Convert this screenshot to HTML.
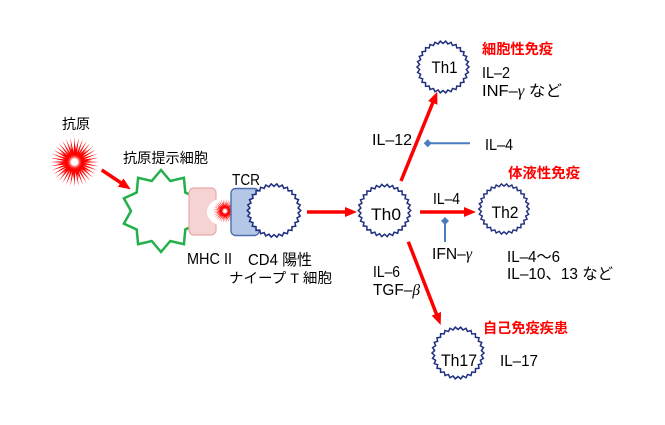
<!DOCTYPE html>
<html><head><meta charset="utf-8">
<style>
html,body{margin:0;padding:0;background:#fff;}
svg{display:block;}
text{font-family:"Liberation Sans","Noto Sans CJK JP",sans-serif;fill:#000;}
.r{fill:#ff0000;font-weight:bold;font-size:14px;}
.l{font-size:15.5px;}
.j{font-size:14px;}
.t{font-size:17px;text-anchor:middle;}
.g{font-family:"Liberation Serif",serif;font-style:italic;}
</style></head>
<body>
<svg width="665" height="425" viewBox="0 0 665 425" xmlns="http://www.w3.org/2000/svg">
<defs>
<polygon id="zz" points="26,0 23.37,2.46 25.43,5.41 22.35,7.26 23.75,10.57 20.35,11.75 21.03,15.28 17.46,15.72 17.4,19.32 13.81,19.01 13,22.52 9.56,21.47 8.03,24.73 4.89,22.99 2.72,25.86 0,23.5 -2.72,25.86 -4.89,22.99 -8.03,24.73 -9.56,21.47 -13,22.52 -13.81,19.01 -17.4,19.32 -17.46,15.72 -21.03,15.28 -20.35,11.75 -23.75,10.57 -22.35,7.26 -25.43,5.41 -23.37,2.46 -26,0 -23.37,-2.46 -25.43,-5.41 -22.35,-7.26 -23.75,-10.57 -20.35,-11.75 -21.03,-15.28 -17.46,-15.72 -17.4,-19.32 -13.81,-19.01 -13,-22.52 -9.56,-21.47 -8.03,-24.73 -4.89,-22.99 -2.72,-25.86 0,-23.5 2.72,-25.86 4.89,-22.99 8.03,-24.73 9.56,-21.47 13,-22.52 13.81,-19.01 17.4,-19.32 17.46,-15.72 21.03,-15.28 20.35,-11.75 23.75,-10.57 22.35,-7.26 25.43,-5.41 23.37,-2.46" fill="#fff" stroke="#1f2f80" stroke-width="1.5" stroke-linejoin="miter"/>
<radialGradient id="glow" cx="0.5" cy="0.5" r="0.5">
<stop offset="0" stop-color="#fff"/>
<stop offset="0.4" stop-color="#fff"/>
<stop offset="1" stop-color="#ff0000" stop-opacity="0"/>
</radialGradient>
<g id="burst" fill="#ff0000">
<polygon points="0,-24.5 1.5,0 0,24.5 -1.5,0"/>
<polygon points="0,-24.5 1.5,0 0,24.5 -1.5,0" transform="rotate(10)"/>
<polygon points="0,-24.5 1.5,0 0,24.5 -1.5,0" transform="rotate(20)"/>
<polygon points="0,-24.5 1.5,0 0,24.5 -1.5,0" transform="rotate(30)"/>
<polygon points="0,-24.5 1.5,0 0,24.5 -1.5,0" transform="rotate(40)"/>
<polygon points="0,-24.5 1.5,0 0,24.5 -1.5,0" transform="rotate(50)"/>
<polygon points="0,-24.5 1.5,0 0,24.5 -1.5,0" transform="rotate(60)"/>
<polygon points="0,-24.5 1.5,0 0,24.5 -1.5,0" transform="rotate(70)"/>
<polygon points="0,-24.5 1.5,0 0,24.5 -1.5,0" transform="rotate(80)"/>
<polygon points="0,-24.5 1.5,0 0,24.5 -1.5,0" transform="rotate(90)"/>
<polygon points="0,-24.5 1.5,0 0,24.5 -1.5,0" transform="rotate(100)"/>
<polygon points="0,-24.5 1.5,0 0,24.5 -1.5,0" transform="rotate(110)"/>
<polygon points="0,-24.5 1.5,0 0,24.5 -1.5,0" transform="rotate(120)"/>
<polygon points="0,-24.5 1.5,0 0,24.5 -1.5,0" transform="rotate(130)"/>
<polygon points="0,-24.5 1.5,0 0,24.5 -1.5,0" transform="rotate(140)"/>
<polygon points="0,-24.5 1.5,0 0,24.5 -1.5,0" transform="rotate(150)"/>
<polygon points="0,-24.5 1.5,0 0,24.5 -1.5,0" transform="rotate(160)"/>
<polygon points="0,-24.5 1.5,0 0,24.5 -1.5,0" transform="rotate(170)"/>
<polygon points="0,-18 1.2,0 0,18 -1.2,0" transform="rotate(5)"/>
<polygon points="0,-18 1.2,0 0,18 -1.2,0" transform="rotate(45)"/>
<polygon points="0,-18 1.2,0 0,18 -1.2,0" transform="rotate(85)"/>
<polygon points="0,-18 1.2,0 0,18 -1.2,0" transform="rotate(125)"/>
<polygon points="0,-18 1.2,0 0,18 -1.2,0" transform="rotate(165)"/>
<circle r="9.5"/>
<circle r="8" fill="url(#glow)"/>
</g>
</defs>

<!-- Antigen -->
<use href="#burst" transform="translate(74.5,162)"/>
<text class="j" x="62" y="129" textLength="28" lengthAdjust="spacingAndGlyphs">抗原</text>

<!-- Arrow antigen -> APC -->
<line x1="101.7" y1="170" x2="122" y2="183.5" stroke="#ff0000" stroke-width="3.5"/>
<polygon points="130.7,189.3 117.94,186.81 123.48,178.49" fill="#ff0000"/>

<!-- APC star -->
<polygon points="161,170 170.3,181 183.9,177.8 185.3,192.5 198.1,198.3 191,211 198.1,223.7 185.3,229.5 183.9,244.2 170.3,241 161,252 151.7,241 138.1,244.2 136.7,229.5 123.9,223.7 131,211 123.9,198.3 136.7,192.5 138.1,177.8 151.7,181" fill="#fff" stroke="#22b04a" stroke-width="2.5" stroke-linejoin="miter"/>
<text class="j" x="123" y="163" textLength="85" lengthAdjust="spacingAndGlyphs">抗原提示細胞</text>

<!-- MHC II -->
<rect x="189" y="188" width="27" height="47" rx="5" fill="#f6d3d3" stroke="#eaa9a9" stroke-width="1.2"/>
<ellipse cx="223" cy="212" rx="16" ry="13.5" fill="#fff"/>
<use href="#burst" transform="translate(225,211) scale(0.5)"/>

<!-- TCR -->
<rect x="231" y="188.5" width="28" height="47" rx="4.5" fill="#b4c7e7" stroke="#4a6fb0" stroke-width="1.4"/>
<!-- CD4 T cell -->
<use href="#zz" transform="translate(274,210.5) scale(1.03)"/>

<text class="l" x="232" y="185" textLength="28" lengthAdjust="spacingAndGlyphs">TCR</text>
<text class="l" x="187" y="264" textLength="45" lengthAdjust="spacingAndGlyphs">MHC II</text>
<text class="l" x="248" y="265" textLength="64" lengthAdjust="spacingAndGlyphs">CD4 陽性</text>
<text class="j" x="229" y="283" textLength="103" lengthAdjust="spacingAndGlyphs">ナイープ T 細胞</text>

<!-- Arrow T cell -> Th0 -->
<line x1="307" y1="212" x2="346" y2="212" stroke="#ff0000" stroke-width="3.5"/>
<polygon points="357,212 345,207 345,217" fill="#ff0000"/>

<!-- Th cells -->
<use href="#zz" transform="translate(384.5,210.5) scale(1.01)"/>
<text class="t" x="386" y="220" textLength="30" lengthAdjust="spacingAndGlyphs">Th0</text>

<use href="#zz" transform="translate(443,67) scale(1.0)"/>
<text class="t" x="444.5" y="73" textLength="26" lengthAdjust="spacingAndGlyphs">Th1</text>

<use href="#zz" transform="translate(504,209) scale(0.97)"/>
<text class="t" x="505" y="218" textLength="27" lengthAdjust="spacingAndGlyphs">Th2</text>

<use href="#zz" transform="translate(458,353) scale(1.0)"/>
<text class="t" x="459" y="366" textLength="36" lengthAdjust="spacingAndGlyphs">Th17</text>

<!-- Arrow Th0 -> Th1 -->
<line x1="401" y1="181" x2="433.5" y2="101" stroke="#ff0000" stroke-width="3.5"/>
<polygon points="437.3,91.7 437.41,104.7 428.15,100.94" fill="#ff0000"/>

<!-- Arrow Th0 -> Th2 -->
<line x1="420" y1="212" x2="465" y2="212" stroke="#ff0000" stroke-width="3.5"/>
<polygon points="476,212 464,207 464,217" fill="#ff0000"/>

<!-- Arrow Th0 -> Th17 -->
<line x1="408.3" y1="241.7" x2="436.8" y2="315" stroke="#ff0000" stroke-width="3.5"/>
<polygon points="440.7,325 431.69,315.63 441.01,312.01" fill="#ff0000"/>

<!-- Blue inhibitor lines -->
<line x1="470" y1="143.3" x2="429" y2="143.3" stroke="#4a7cc0" stroke-width="2"/>
<polygon points="427.7,139.3 431.7,143.3 427.7,147.3 423.7,143.3" fill="#4a7cc0"/>
<line x1="445" y1="242" x2="445" y2="222" stroke="#4a7cc0" stroke-width="2"/>
<polygon points="445,217 449,221 445,225 441,221" fill="#4a7cc0"/>

<!-- Labels -->
<text class="l" x="372" y="145" textLength="40" lengthAdjust="spacingAndGlyphs">IL–12</text>
<text class="l" x="485" y="150" textLength="28" lengthAdjust="spacingAndGlyphs">IL–4</text>

<text class="r" x="482" y="54" textLength="71" lengthAdjust="spacingAndGlyphs">細胞性免疫</text>
<text class="l" x="482" y="78" textLength="28" lengthAdjust="spacingAndGlyphs">IL–2</text>
<text class="l" x="482" y="96" textLength="80" lengthAdjust="spacingAndGlyphs">INF–<tspan class="g">γ</tspan>  など</text>

<text class="r" x="508" y="178" textLength="72" lengthAdjust="spacingAndGlyphs">体液性免疫</text>
<text class="l" x="433" y="204" textLength="27" lengthAdjust="spacingAndGlyphs">IL–4</text>
<text class="l" x="432" y="259" textLength="40" lengthAdjust="spacingAndGlyphs">IFN–<tspan class="g">γ</tspan></text>
<text class="l" x="507" y="262" textLength="53" lengthAdjust="spacingAndGlyphs">IL–4〜6</text>
<text class="l" x="507" y="279" textLength="106" lengthAdjust="spacingAndGlyphs">IL–10、13 など</text>

<text class="l" x="373" y="277" textLength="27" lengthAdjust="spacingAndGlyphs">IL–6</text>
<text class="l" x="373" y="295" textLength="47" lengthAdjust="spacingAndGlyphs">TGF–<tspan class="g">β</tspan></text>

<text class="r" x="483" y="333" textLength="85" lengthAdjust="spacingAndGlyphs">自己免疫疾患</text>
<text class="l" x="500" y="366" textLength="38" lengthAdjust="spacingAndGlyphs">IL–17</text>
</svg>
</body></html>
